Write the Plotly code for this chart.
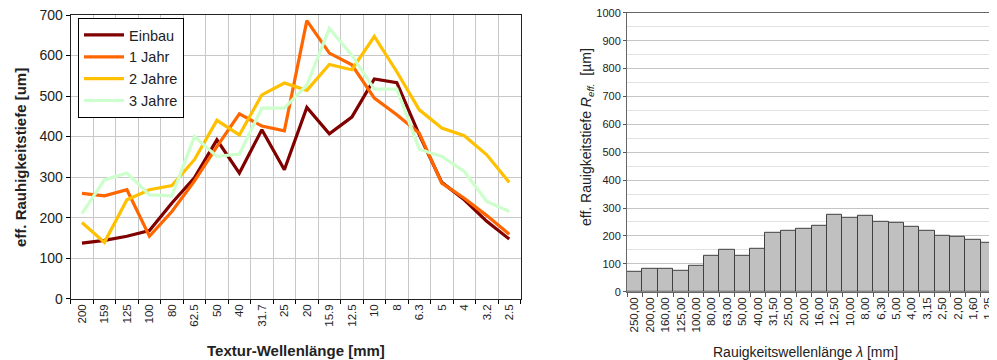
import plotly.graph_objects as go

# ---- left chart data ----
wl_left = ["200", "159", "125", "100", "80", "62.5", "50", "40", "31.7", "25",
           "20", "15.9", "12.5", "10", "8", "6.3", "5", "4", "3.2", "2.5"]
einbau = [137, 144, 154, 168, 236, 298, 392, 310, 417, 318,
          472, 407, 448, 542, 533, 404, 287, 244, 191, 147]
jahr1 = [260, 254, 269, 154, 215, 290, 375, 456, 426, 414,
         686, 606, 577, 495, 454, 408, 285, 248, 205, 159]
jahre2 = [188, 139, 244, 269, 279, 343, 440, 404, 503, 532,
          514, 578, 565, 647, 560, 466, 421, 402, 355, 287]
jahre3 = [210, 293, 310, 256, 254, 400, 351, 357, 470, 470,
          527, 667, 601, 517, 517, 369, 351, 314, 240, 215]
series_names = ["Einbau", "1 Jahr", "2 Jahre", "3 Jahre"]
series_colors = ["#800000", "#FF6600", "#FFC000", "#CCFFCC"]

# ---- right chart data ----
wl_right = ["250,00", "200,00", "160,00", "125,00", "100,00", "80,00", "63,00", "50,00",
            "40,00", "31,50", "25,00", "20,00", "16,00", "12,50", "10,00", "8,00",
            "6,30", "5,00", "4,00", "3,15", "2,50", "2,00", "1,60", "1,25"]
reff = [71, 82, 82, 75, 92, 127, 151, 127, 155, 212, 220, 226, 236, 276,
        264, 271, 250, 246, 232, 220, 200, 196, 187, 176]

# the page body has an 8px margin, so the figure sits 8px in from the window corner
OFF = 8
W, H = 997 - OFF, 360 - OFF
FONT = "Liberation Sans, Arial, sans-serif"


def px(xs):
    return (xs - OFF) / W


def py(ys):
    return 1 - (ys - OFF) / H


fig = go.Figure()
for name, vals, col in zip(series_names, [einbau, jahr1, jahre2, jahre3], series_colors):
    fig.add_trace(go.Scatter(x=wl_left, y=vals, name=name, mode="lines",
                             line=dict(color=col, width=3.2),
                             xaxis="x", yaxis="y"))
fig.add_trace(go.Bar(x=wl_right, y=reff, marker=dict(color="#C0C0C0",
                     line=dict(color="#404040", width=1)),
                     showlegend=False, xaxis="x2", yaxis="y2"))

fig.update_layout(
    width=W, height=H,
    margin=dict(l=0, r=0, t=0, b=0),
    paper_bgcolor="white", plot_bgcolor="white",
    font=dict(family=FONT, color="#222"),
    bargap=0,
    showlegend=True,
    legend=dict(x=px(78), y=py(18), xanchor="left", yanchor="top",
                bordercolor="black", borderwidth=1, bgcolor="white",
                font=dict(size=14.5, family=FONT, color="#222"),
                tracegroupgap=0, itemwidth=40),
    xaxis=dict(domain=[px(70.7), px(520.5)], type="category",
               range=[-0.5, 19.5],
               tickson="boundaries", ticks="outside", ticklen=4, tickcolor="black",
               showgrid=True, gridcolor="#C8C8C8", gridwidth=1,
               showline=True, linecolor="#222", linewidth=1, mirror=True,
               tickangle=-90, tickfont=dict(size=11.5, family=FONT, color="#222"),
               ticklabeloverflow="allow",
               automargin=False, anchor="y"),
    yaxis=dict(domain=[py(298.7), py(15)], range=[0, 700], dtick=100,
               ticks="outside", ticklen=4, tickcolor="black",
               showgrid=True, gridcolor="#C8C8C8", gridwidth=1,
               showline=True, linecolor="#222", linewidth=1, mirror=True,
               tickfont=dict(size=14, family=FONT, color="#222"),
               ticklabeloverflow="allow",
               zeroline=False, automargin=False, anchor="x"),
    xaxis2=dict(domain=[px(627), 1.0], type="category", range=[-0.5, 23.55],
                tickson="boundaries", ticks="outside", ticklen=4, tickcolor="#555",
                showgrid=False,
                showline=True, linecolor="#666", linewidth=1, mirror=True,
                tickangle=-90, tickfont=dict(size=11.5, family=FONT, color="#222"),
                ticklabeloverflow="allow",
                automargin=False, anchor="y2"),
    yaxis2=dict(domain=[py(291.7), py(12.8)], range=[0, 1000], dtick=100,
                ticks="outside", ticklen=3, tickcolor="#555",
                showgrid=True, gridcolor="#C4C4C4", gridwidth=1,
                minor=dict(dtick=50, showgrid=True, gridcolor="#E2E2E2", gridwidth=1),
                showline=True, linecolor="#666", linewidth=1,
                tickfont=dict(size=11, family=FONT, color="#222"),
                ticklabeloverflow="allow",
                zeroline=False, automargin=False, anchor="x2"),
)

# axis titles as annotations
ann = dict(xref="paper", yref="paper", showarrow=False, xanchor="center", yanchor="middle")
fig.add_annotation(text="<b>eff. Rauhigkeitstiefe [um]</b>", x=px(20), y=py(158),
                   textangle=-90, font=dict(size=15, family=FONT, color="#222"), **ann)
fig.add_annotation(text="<b>Textur-Wellenlänge [mm]</b>", x=px(296), y=py(350),
                   font=dict(size=15, family=FONT, color="#222"), **ann)
fig.add_annotation(text="eff. Rauigkeitstiefe <i>R</i><sub><i>eff.</i></sub>  [µm]",
                   x=px(587), y=py(137), textangle=-90,
                   font=dict(size=14, family=FONT, color="#222"), **ann)
fig.add_annotation(text="Rauigkeitswellenlänge <i>λ</i> [mm]", x=px(805), y=py(352),
                   font=dict(size=14, family=FONT, color="#222"), **ann)

fig.write_html("out.html")
